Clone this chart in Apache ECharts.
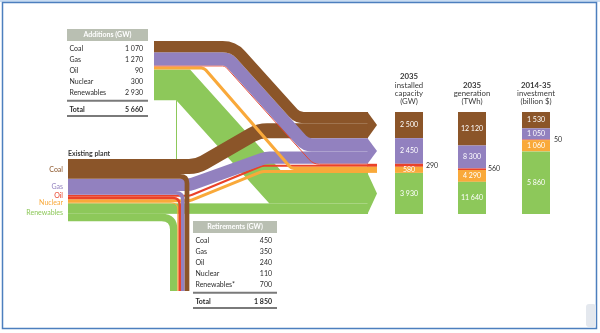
<!DOCTYPE html>
<html>
<head>
<meta charset="utf-8">
<script src="https://cdn.jsdelivr.net/npm/echarts@6/dist/echarts.min.js"></script>
<style>
  html, body { margin: 0; padding: 0; background: #fff; }
  #main { width: 600px; height: 333px; }
</style>
</head>
<body>
<div id="main"></div>
<script>
// ---- data (GW unless noted) ----
const fuels = ['Coal', 'Gas', 'Oil', 'Nuclear', 'Renewables'];
const retirementNames = ['Coal', 'Gas', 'Oil', 'Nuclear', 'Renewables*'];
const existing = [1880, 1530, 440, 390, 1700];
const additions = [1070, 1270, 90, 300, 2930];
const retirements = [450, 350, 240, 110, 700];
const additionsTotal = 5660;
const retirementsTotal = 1850;
const capacity2035 = [2500, 2450, 290, 580, 3930];      // GW
const generation2035 = [12120, 8300, 560, 4290, 11640]; // TWh
const investment = [1530, 1050, 50, 1060, 5860];        // billion $
const barTitles = [
  ['2035', 'installed', 'capacity', '(GW)'],
  ['2035', 'generation', '(TWh)'],
  ['2014-35', 'investment', '(billion $)']
];

const colors = ['#8b5529', '#9281bf', '#ea4229', '#f9a93a', '#8dc85a'];
const FONT = 'Lato, "Open Sans", sans-serif';
const fmt = v => String(v).replace(/\B(?=(\d{3})+(?!\d))/g, ' ');
const sum = a => a.reduce((s, v) => s + v, 0);

// ---- layout (px) ----
const L = {
  existLeft: 68, addLeft: 154, flowEnd: 368, tip: 9,
  addTop: 41, existTop: 159,
  retLeft: 170, retBottom: 291,
  stackTop: 112, stackH: 102,
  bars: [395, 458, 522], barW: 28
};
// bends of the addition flows: x of the corner, slope angle, corner radii
const ADD_ROUTE = {
  group: { x: 236, angle: 48, r1: 30, r2: 14 },   // coal, gas, oil (top edge of group)
  nuclear: { x: 204, angle: 49, r1: 6, r2: 6 },    // band centre
  renew: { x: 190, angle: 48, r1: 0, r2: 0 }       // top edge of band
};
// bends of the surviving existing plant
const SURV_ROUTE = [
  { xa: 197, xb: 259, r: 30 },
  { xa: 190, xb: 266, r: 20 },
  { xa: 190, xb: 262, r: 12 },
  { xa: 190, xb: 262, r: 12 },
  null
];
const RET_RADIUS = [7, 7, 7, 7, 12];

function pathD(pts, radii) {
  let d = 'M' + pts[0][0] + ',' + pts[0][1];
  for (let i = 1; i < pts.length - 1; i++) {
    const p0 = pts[i - 1], p = pts[i], p1 = pts[i + 1];
    const r = radii[i - 1] || 0;
    const ax = p[0] - p0[0], ay = p[1] - p0[1], bx = p1[0] - p[0], by = p1[1] - p[1];
    const la = Math.hypot(ax, ay), lb = Math.hypot(bx, by);
    if (la < 1e-6 || lb < 1e-6) continue;
    const ux = ax / la, uy = ay / la, vx = bx / lb, vy = by / lb;
    const turn = Math.acos(Math.max(-1, Math.min(1, ux * vx + uy * vy)));
    let t = r > 0 ? r * Math.tan(turn / 2) : 0;
    t = Math.min(t, la / 2, lb / 2);
    if (t > 0.01) {
      d += 'L' + (p[0] - ux * t) + ',' + (p[1] - uy * t) +
           'Q' + p[0] + ',' + p[1] + ',' + (p[0] + vx * t) + ',' + (p[1] + vy * t);
    } else {
      d += 'L' + p[0] + ',' + p[1];
    }
  }
  const pe = pts[pts.length - 1];
  return d + 'L' + pe[0] + ',' + pe[1];
}

function band(d, w, color) {
  return {
    type: 'path', shape: { pathData: d },
    style: { fill: 'none', stroke: color, lineWidth: w, lineJoin: 'miter', miterLimit: 10, lineCap: 'butt', opacity: 1 }
  };
}

function geometry(api) {
  const px = v => api.size([0, v])[1];
  const yFin = v => api.coord([0, v])[1];
  const G = { add: [], exist: [], fin: [], retX: [] };
  let a = L.addTop, e = L.existTop, c = 0;
  for (let i = 0; i < fuels.length; i++) {
    const aw = px(additions[i]);
    const sw = px(existing[i] - retirements[i]);
    const rw = px(retirements[i]);
    const ew = px(existing[i]);
    const ft = yFin(c), fb = yFin(c + capacity2035[i]);
    G.add.push({ top: a, w: aw, c: a + aw / 2 });
    G.exist.push({ top: e, w: ew, survC: e + sw / 2, survW: sw, retC: e + sw + rw / 2, retW: rw });
    G.fin.push({ top: ft, bot: fb, addC: ft + aw / 2, survC: ft + aw + sw / 2 });
    a += aw; e += ew; c += capacity2035[i];
  }
  // retirement columns: renewables innermost (left), coal outermost (right)
  let x = L.retLeft;
  [4, 3, 2, 1, 0].forEach(i => { G.retX[i] = x + G.exist[i].retW / 2; x += G.exist[i].retW; });
  return G;
}

// diagonal line of a band: anchor on a reference edge, offset d towards lower-left
function diagX(ax, ay, angleDeg, d) {
  const t = angleDeg * Math.PI / 180;
  const qx = ax - d * Math.sin(t), qy = ay + d * Math.cos(t);
  return y => qx + (y - qy) / Math.tan(t);
}

function additionPath(G, i) {
  const a = G.add[i], f = G.fin[i];
  let xa, xb, r1, r2;
  if (i <= 2) {
    const R = ADD_ROUTE.group, d = a.c - L.addTop;
    const fx = diagX(R.x, L.addTop, R.angle, d);
    xa = fx(a.c); xb = fx(f.addC); r1 = R.r1 - d; r2 = R.r2;
  } else if (i === 3) {
    const R = ADD_ROUTE.nuclear;
    const fx = diagX(R.x, a.c, R.angle, 0);
    xa = fx(a.c); xb = fx(f.addC); r1 = R.r1; r2 = R.r2;
  } else {
    const R = ADD_ROUTE.renew;
    const fx = diagX(R.x, a.top, R.angle, a.w / 2);
    xa = fx(a.c); xb = fx(f.addC); r1 = R.r1; r2 = R.r2;
  }
  return pathD([[L.addLeft, a.c], [xa, a.c], [xb, f.addC], [L.flowEnd, f.addC]], [r1, r2]);
}

function renderFlow(params, api) {
  const kind = api.value(0), i = api.value(1);
  const G = geometry(api);
  const col = colors[i];
  if (kind === 0) {            // additions
    return band(additionPath(G, i), G.add[i].w, col);
  }
  if (kind === 1) {            // surviving existing plant
    const e = G.exist[i], f = G.fin[i], R = SURV_ROUTE[i];
    const pts = R ? [[L.existLeft, e.survC], [R.xa, e.survC], [R.xb, f.survC], [L.flowEnd, f.survC]]
                  : [[L.existLeft, e.survC], [L.flowEnd, f.survC]];
    return band(pathD(pts, R ? [R.r, R.r] : []), e.survW, col);
  }
  if (kind === 2) {            // retirements
    const e = G.exist[i];
    const pts = [[L.existLeft, e.retC], [G.retX[i], e.retC], [G.retX[i], L.retBottom]];
    return band(pathD(pts, [RET_RADIUS[i]]), e.retW, col);
  }
  if (kind === 3) {            // arrow heads
    const f = G.fin[i], x0 = L.flowEnd - 0.5, x1 = L.flowEnd + L.tip;
    const pts = (i === 2 || i === 3)
      ? [[x0, f.top], [x1, f.top], [x1, f.bot], [x0, f.bot]]
      : [[x0, f.top], [x1, (f.top + f.bot) / 2], [x0, f.bot]];
    return { type: 'polygon', shape: { points: pts }, style: { fill: col } };
  }
  if (kind === 4) {            // stem under the renewables addition
    const a = G.add[4];
    const R = ADD_ROUTE.renew;
    const fx = diagX(R.x, a.top, R.angle, a.w);
    const x = Math.round(fx(a.top + a.w)) + 0.5;
    return { type: 'line', shape: { x1: x, y1: a.top + a.w, x2: x, y2: L.existTop + 2 },
             style: { stroke: colors[4], lineWidth: 1 } };
  }
  if (kind === 5) {            // fuel names beside the existing plant
    const cs = G.exist.map(e => e.top + e.w / 2);
    // spread labels that would collide
    for (let it = 0; it < 20; it++) {
      for (let k = 1; k < cs.length; k++) {
        const gap = cs[k] - cs[k - 1];
        if (gap < 7) { const m = (7 - gap) / 2; cs[k - 1] -= m; cs[k] += m; }
      }
    }
    return { type: 'text', x: L.existLeft - 5, y: cs[i] + 0.5,
             style: { text: fuels[i], fill: col, font: '7px ' + FONT, align: 'right', verticalAlign: 'middle' } };
  }
  return null;
}

const flowItems = [];
flowItems.push([4, 4]);
flowItems.push([0, 4]);
[4, 3, 2, 1, 0].forEach(i => flowItems.push([1, i]));
[4, 3, 2, 1, 0].forEach(i => flowItems.push([2, i]));
[3, 2, 1, 0].forEach(i => flowItems.push([0, i]));
[0, 1, 2, 3, 4].forEach(i => flowItems.push([3, i]));
[0, 1, 2, 3, 4].forEach(i => flowItems.push([5, i]));

// ---- stacked columns ----
const columns = [capacity2035, generation2035, investment];
const outsideShift = [3, 2, 4];
const grids = [{ left: 0, top: L.stackTop, width: 600, height: L.stackH }];
const xAxes = [{ type: 'value', gridIndex: 0, min: 0, max: 600, show: false }];
const yAxes = [{ type: 'value', gridIndex: 0, min: 0, max: sum(capacity2035), inverse: true, show: false }];
const series = [{
  type: 'custom', coordinateSystem: 'cartesian2d', xAxisIndex: 0, yAxisIndex: 0,
  clip: false, silent: true, data: flowItems, renderItem: renderFlow, z: 2
}];
columns.forEach((vals, g) => {
  grids.push({ left: L.bars[g], top: L.stackTop, width: L.barW, height: L.stackH });
  xAxes.push({ type: 'category', gridIndex: g + 1, data: ['x'], show: false });
  yAxes.push({ type: 'value', gridIndex: g + 1, min: 0, max: sum(vals), inverse: true, show: false });
  vals.forEach((v, i) => {
    const outside = i === 2;
    series.push({
      type: 'bar', xAxisIndex: g + 1, yAxisIndex: g + 1, stack: 'c' + g, barWidth: '100%',
      data: [v], silent: true, itemStyle: { color: colors[i] },
      label: outside
        ? { show: true, position: 'right', distance: outsideShift[g], color: '#333', fontSize: 7, fontFamily: FONT, formatter: p => fmt(p.value) }
        : { show: true, position: 'inside', color: '#fff', fontSize: 7, fontFamily: FONT, formatter: p => fmt(p.value) }
    });
  });
});

// ---- tables, titles, frame ----
function table(x0, x1, top, title, names, values, total) {
  const els = [];
  const txt = (x, y, s, align, bold, fill) => ({
    type: 'text', x, y, style: { text: s, fill: fill || '#2b2b2b', font: (bold ? 'bold ' : '') + '7px ' + FONT, align, verticalAlign: 'middle' }
  });
  els.push({ type: 'rect', shape: { x: x0, y: top, width: x1 - x0, height: 12 }, style: { fill: '#b9bfb2' } });
  els.push(txt((x0 + x1) / 2, top + 6, title, 'center', true, '#fff'));
  names.forEach((n, i) => {
    const y = top + 19.3 + 11.1 * i;
    els.push(txt(x0 + 2.5, y, n, 'left'));
    els.push(txt(x1 - 5, y, fmt(values[i]), 'right'));
  });
  els.push({ type: 'line', shape: { x1: x0, y1: top + 71.7, x2: x1, y2: top + 71.7 }, style: { stroke: '#7a7a7a', lineWidth: 2 } });
  els.push(txt(x0 + 2.5, top + 80.3, 'Total', 'left', true));
  els.push(txt(x1 - 5, top + 80.3, fmt(total), 'right', true));
  els.push({ type: 'line', shape: { x1: x0, y1: top + 87, x2: x1, y2: top + 87 }, style: { stroke: '#7a7a7a', lineWidth: 2 } });
  return els;
}

const graphics = [];
graphics.push({ type: 'rect', shape: { x: 0, y: 0, width: 600, height: 2 }, style: { fill: '#c9dcf2' }, z: 0 });
graphics.push({ type: 'rect', shape: { x: 2.5, y: 2.5, width: 594, height: 326 }, style: { fill: 'none', stroke: '#4d7fbe', lineWidth: 1.5 }, z: 0 });
graphics.push({ type: 'rect', shape: { x: 586, y: 304, width: 10, height: 23, r: 3 }, style: { fill: '#e4e8ee' }, z: 0 });
table(67, 148, 29, 'Additions (GW)', fuels, additions, additionsTotal).forEach(e => graphics.push(e));
table(193, 277, 221, 'Retirements (GW)', retirementNames, retirements, retirementsTotal).forEach(e => graphics.push(e));
graphics.push({ type: 'text', x: L.existLeft, y: L.existTop - 5, style: { text: 'Existing plant', fill: '#3a3a3a', font: 'bold 7px ' + FONT, align: 'left', verticalAlign: 'middle' } });
barTitles.forEach((lines, g) => {
  graphics.push({
    type: 'text', x: L.bars[g] + L.barW / 2, y: 106,
    style: {
      text: lines.map((s, k) => k === 0 ? '{b|' + s + '}' : s).join('\n'),
      fill: '#3a3a3a', font: '7.8px ' + FONT, align: 'center', verticalAlign: 'bottom', lineHeight: 8.3,
      rich: { b: { fontWeight: 'bold', fontSize: 7.8, fontFamily: FONT, fill: '#3a3a3a', lineHeight: 8.3 } }
    }
  });
});

const chart = echarts.init(document.getElementById('main'), null, { renderer: 'canvas' });
chart.setOption({
  animation: false,
  backgroundColor: '#fff',
  grid: grids, xAxis: xAxes, yAxis: yAxes,
  series,
  graphic: { elements: graphics }
});
</script>
</body>
</html>
